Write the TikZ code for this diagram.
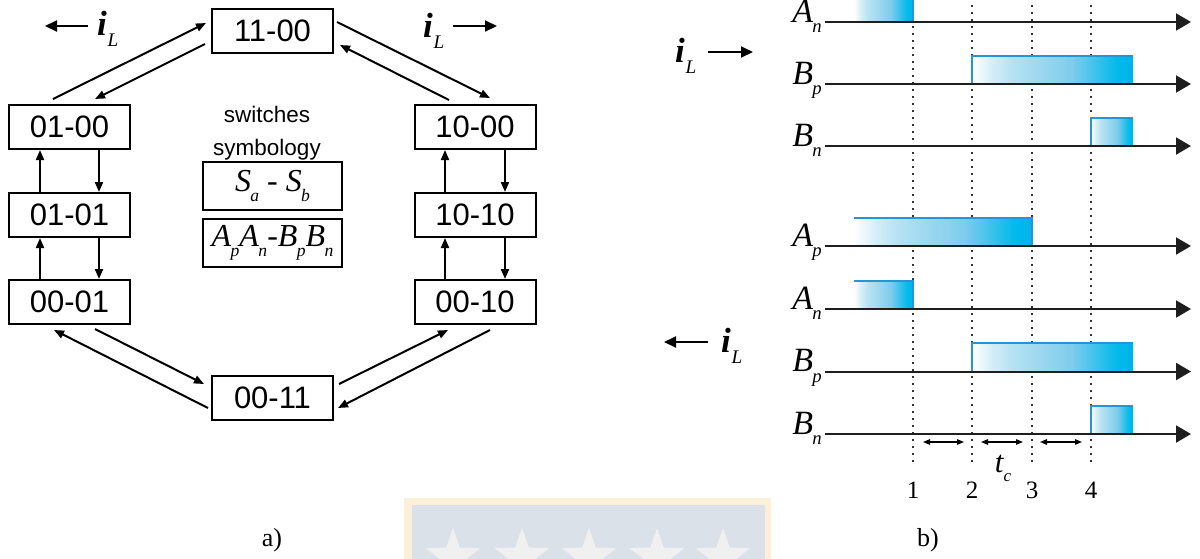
\documentclass[tikz,border=0pt]{standalone}
\usepackage{fontspec}
\usepackage{graphicx}
\setmainfont{Liberation Serif}
\setsansfont{Liberation Sans}
\usetikzlibrary{arrows.meta,shapes.geometric}

\definecolor{pulsecyan}{RGB}{0,178,234}
\definecolor{pulseA}{RGB}{213,238,248}
\definecolor{pulseB}{RGB}{181,226,243}
\definecolor{pulseC}{RGB}{127,204,236}
\definecolor{pulseD}{RGB}{0,187,235}
\definecolor{pulseedge}{RGB}{35,150,215}
\definecolor{axisgray}{RGB}{30,30,30}
\definecolor{crestborder}{RGB}{253,240,217}
\definecolor{crestfill}{RGB}{218,225,233}
\definecolor{creststar}{RGB}{240,240,240}

% letter with a lowered, reduced subscript
\newcommand\symb[2]{\textit{#1}\kern-0.02em\raisebox{-0.32em}{\scalebox{0.55}{\textit{#2}}}}
% current symbol
\newcommand\curr{\textbf{\textit{i}}\kern0.02em\raisebox{-0.32em}{\scalebox{0.55}{\textit{L}}}}

\pgfdeclarehorizontalshading{pulsefill}{100bp}{color(0bp)=(white); color(25bp)=(white);
  color(31bp)=(pulseA); color(37.5bp)=(pulseB); color(56bp)=(pulseC);
  color(70bp)=(pulseD); color(75bp)=(pulsecyan); color(100bp)=(pulsecyan)}

\tikzset{
  state/.style={draw, line width=2pt, minimum width=121pt, minimum height=44pt,
    inner sep=0pt, font=\sffamily\fontsize{31}{31}\selectfont},
  symbox/.style={draw, line width=2pt, minimum width=139pt, minimum height=48pt,
    inner sep=0pt, font=\fontsize{32}{32}\selectfont},
  link/.style={line width=2pt, -{Triangle[length=10pt,width=8pt]}},
  current/.style={line width=2pt, -{Triangle[length=12pt,width=11pt]}},
  curlabel/.style={anchor=base west, inner sep=0pt, font=\fontsize{35}{35}\selectfont},
  timeaxis/.style={line width=2pt, axisgray, -{Triangle[length=15pt,width=17pt]}},
  marker/.style={line width=1.7pt, black!80, dash pattern=on 1.7pt off 5.3pt},
  sig/.style={anchor=base east, inner sep=0pt, font=\fontsize{34}{34}\selectfont},
  pulseline/.style={line width=1.2pt, pulseedge},
  interval/.style={line width=1.3pt, {Triangle[length=7pt,width=5.5pt]}-{Triangle[length=7pt,width=5.5pt]}},
  caption/.style={inner sep=0pt, font=\fontsize{26}{26}\selectfont}
}

\begin{document}
\begin{tikzpicture}[x=1pt,y=-1pt]
\useasboundingbox (0,0) rectangle (1200,558);
\clip (0,0) rectangle (1200,558);

% faint crest in the background
\fill[crestborder] (404,498) rectangle (771,560);
\fill[crestfill] (412,505) rectangle (765,560);
\foreach \cx [count=\k] in {453,522,589,657,723}
  \node[star, star points=5, star point ratio=2.5, fill=creststar, draw=none,
        minimum size=58pt, inner sep=0pt] (crest\k) at (\cx,557) {};

% ---------- a) state diagram ----------
\node[state] (s1100) at (272.5,31) {11-00};
\node[state] (s0100) at (69.5,127) {01-00};
\node[state] (s0101) at (69.5,215) {01-01};
\node[state] (s0001) at (69.5,302) {00-01};
\node[state] (s0011) at (272.5,398) {00-11};
\node[state] (s1000) at (475,127) {10-00};
\node[state] (s1010) at (475,215) {10-10};
\node[state] (s0010) at (475,302) {00-10};

% diagonal transitions
\draw[link] ([xshift=45pt,yshift=5pt]s0100.north west) -- ([xshift=-5pt,yshift=8pt]s1100.west);
\draw[link] ([xshift=-6pt,yshift=-13pt]s1100.west) -- ([xshift=87pt,yshift=5pt]s0100.north west);
\draw[link] ([xshift=3pt,yshift=9pt]s1100.east) -- ([xshift=15pt,yshift=6pt]s1000.north);
\draw[link] ([xshift=-26pt,yshift=4pt]s1000.north) -- ([xshift=6pt,yshift=-14pt]s1100.east);
\draw[link] ([xshift=87pt,yshift=-4pt]s0001.south west) -- ([xshift=-7pt,yshift=14pt]s0011.west);
\draw[link] ([xshift=-3pt,yshift=-10pt]s0011.west) -- ([xshift=46pt,yshift=-5pt]s0001.south west);
\draw[link] ([xshift=5pt,yshift=14pt]s0011.east) -- ([xshift=-27pt,yshift=-5pt]s0010.south);
\draw[link] ([xshift=15pt,yshift=-5pt]s0010.south) -- ([xshift=4pt,yshift=-10pt]s0011.east);

% vertical transitions
\draw[link] ([xshift=29.5pt]s0100.south) -- ([xshift=29.5pt]s0101.north);
\draw[link] ([xshift=-29.5pt]s0101.north) -- ([xshift=-29.5pt]s0100.south);
\draw[link] ([xshift=29.5pt]s0101.south) -- ([xshift=29.5pt]s0001.north);
\draw[link] ([xshift=-29.5pt]s0001.north) -- ([xshift=-29.5pt]s0101.south);
\draw[link] ([xshift=30pt]s1000.south) -- ([xshift=30pt]s1010.north);
\draw[link] ([xshift=-30pt]s1010.north) -- ([xshift=-30pt]s1000.south);
\draw[link] ([xshift=30pt]s1010.south) -- ([xshift=30pt]s0010.north);
\draw[link] ([xshift=-30pt]s0010.north) -- ([xshift=-30pt]s1010.south);

% legend
\node[align=center, inner sep=0pt, font=\sffamily\fontsize{22.5}{33}\selectfont] (legend) at (267,133) {switches\\symbology};
\node[symbox] (symS) at (272.5,186) {\symb{S}{a} - \symb{S}{b}};
\node[symbox] (symAB) at (272.5,243) {\symb{A}{p}\symb{A}{n}-\symb{B}{p}\symb{B}{n}};

% current directions
\node[curlabel] (iL1) at (97,35) {\curr};
\coordinate (c1a) at (88,26);  \coordinate (c1b) at (45,26);
\draw[current] (c1a) -- (c1b);
\node[curlabel] (iL2) at (423,37) {\curr};
\coordinate (c2a) at (453,26); \coordinate (c2b) at (497,26);
\draw[current] (c2a) -- (c2b);
\node[curlabel] (iL3) at (675,62) {\curr};
\coordinate (c3a) at (708,52); \coordinate (c3b) at (753,52);
\draw[current] (c3a) -- (c3b);
\node[curlabel] (iL4) at (721,352) {\curr};
\coordinate (c4a) at (708,342); \coordinate (c4b) at (664,342);
\draw[current] (c4a) -- (c4b);

\node[caption] (capa) at (272,540) {a)};

% ---------- b) gate signals ----------
% switching instants
\foreach \x in {913,972,1032,1091}
  \draw[marker] (\x,-2) -- (\x,466);

% pulses
\newcommand\pulse[4]{\shade[shading=pulsefill] (#1,#3) rectangle (#2,#4);}
\pulse{854}{913}{-6}{22}
\pulse{972}{1133}{56}{84}
\pulse{1091}{1133}{118}{146}
\pulse{854}{1032}{218}{246}
\pulse{854}{913}{281}{309}
\pulse{972}{1133}{343}{371.5}
\pulse{1091}{1133}{406}{434}
\draw[pulseline] (854,-6) -- (913,-6) -- (913,22);
\draw[pulseline] (972,84) -- (972,56) -- (1133,56);
\draw[pulseline] (1091,146) -- (1091,118) -- (1133,118);
\draw[pulseline] (854,218) -- (1032,218) -- (1032,246);
\draw[pulseline] (854,281) -- (913,281) -- (913,309);
\draw[pulseline] (972,371.5) -- (972,343) -- (1133,343);
\draw[pulseline] (1091,434) -- (1091,406) -- (1133,406);

% time axes and signal names
\foreach \y in {22,84,146,246,309,371.5,434}
  \draw[timeaxis] (825,\y) -- (1191,\y);
\node[sig] (gAnT) at (822,22) {\symb{A}{n}};
\node[sig] (gBpT) at (822,84) {\symb{B}{p}};
\node[sig] (gBnT) at (822,146) {\symb{B}{n}};
\node[sig] (gAp) at (822,246) {\symb{A}{p}};
\node[sig] (gAn) at (822,309) {\symb{A}{n}};
\node[sig] (gBp) at (822,371.5) {\symb{B}{p}};
\node[sig] (gBn) at (822,434) {\symb{B}{n}};

% dead-time intervals
\draw[interval] (923,442) -- (964,442);
\draw[interval] (981,442) -- (1023,442);
\draw[interval] (1040,442) -- (1082,442);
\node[anchor=base, inner sep=0pt, font=\fontsize{31}{31}\selectfont] (tc) at (1003,472) {\symb{t}{c}};

\foreach \x [count=\k] in {913,972,1032,1091}
  \node[inner sep=0pt, font=\fontsize{25}{25}\selectfont] (n\k) at (\x,490) {\k};

\node[caption] (capb) at (928,540) {b)};
\end{tikzpicture}
\end{document}
